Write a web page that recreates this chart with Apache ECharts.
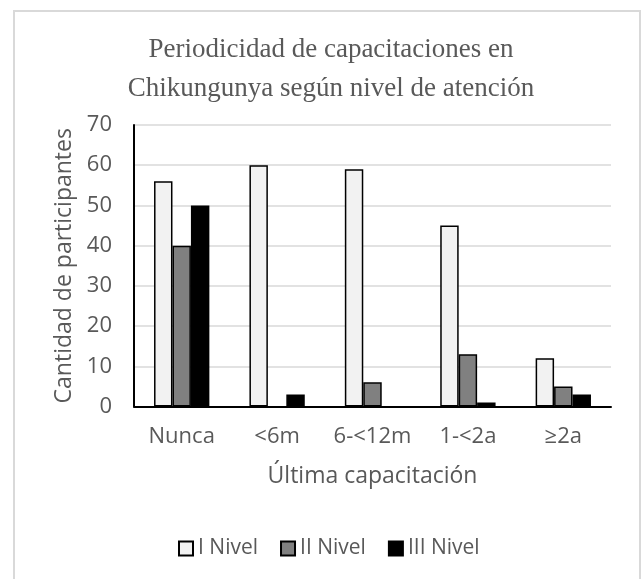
<!DOCTYPE html>
<html>
<head>
<meta charset="utf-8">
<script src="https://cdn.jsdelivr.net/npm/echarts@6/dist/echarts.min.js"></script>
<style>html,body{margin:0;padding:0;background:#fff;}#c{width:643px;height:579px;}</style>
</head>
<body>
<div id="c"></div>
<script>
const categories = ['Nunca', '<6m', '6-<12m', '1-<2a', '≥2a'];
const nivel1 = [56, 60, 59, 45, 12];
const nivel2 = [40, 0, 6, 13, 5];
const nivel3 = [50, 3, 0, 1, 3];
const seriesNames = ['I Nivel', 'II Nivel', 'III Nivel'];
const yTicks = { min: 0, max: 70, interval: 10 };

const font = 'Open Sans';
const grey = '#595959';
const chart = echarts.init(document.getElementById('c'));
function bar(name, data, color) {
  return {
    name, type: 'bar',
    data: data.map(v => v === 0 ? { value: v, itemStyle: { borderWidth: 0 } } : v),
    barGap: '0%', barCategoryGap: '42%',
    itemStyle: { color, borderColor: '#000', borderWidth: 1.5 },
    emphasis: { disabled: true }
  };
}
chart.setOption({
  animation: false,
  backgroundColor: '#fff',
  graphic: [{
    type: 'rect', shape: { x: 14, y: 11, width: 626, height: 600 },
    style: { fill: 'none', stroke: '#d9d9d9', lineWidth: 2 }, silent: true, z: -1
  }],
  title: {
    text: 'Periodicidad de capacitaciones en\nChikungunya según nivel de atención',
    left: 326, textAlign: 'center', top: 25,
    textStyle: { fontFamily: 'Liberation Serif', fontSize: 27, fontWeight: 'normal', color: grey, lineHeight: 39 }
  },
  legend: {
    top: 533, left: 173,
    icon: 'rect',
    itemWidth: 14, itemHeight: 14, itemGap: 22,
    textStyle: { fontFamily: font, fontSize: 21, color: grey },
    data: seriesNames
  },
  grid: { left: 134, top: 125, right: 32, bottom: 172.5 },
  xAxis: {
    type: 'category', data: categories,
    name: 'Última capacitación', nameLocation: 'middle', nameGap: 58,
    nameTextStyle: { fontFamily: font, fontSize: 23, color: grey },
    axisLine: { lineStyle: { color: '#000', width: 2 } },
    axisTick: { show: false },
    axisLabel: { interval: 0, fontFamily: font, fontSize: 22, color: grey, margin: 19 }
  },
  yAxis: {
    type: 'value', min: yTicks.min, max: yTicks.max, interval: yTicks.interval,
    name: 'Cantidad de participantes', nameLocation: 'middle', nameGap: 53,
    nameTextStyle: { fontFamily: font, fontSize: 23, color: grey },
    axisLine: { show: true, lineStyle: { color: '#000', width: 2 } },
    axisTick: { show: false },
    axisLabel: { fontFamily: font, fontSize: 22, color: grey, margin: 22 },
    splitLine: { lineStyle: { color: '#d9d9d9', width: 1.5 } }
  },
  series: [
    bar(seriesNames[0], nivel1, '#f2f2f2'),
    bar(seriesNames[1], nivel2, '#808080'),
    bar(seriesNames[2], nivel3, '#000000')
  ]
});
</script>
</body>
</html>
